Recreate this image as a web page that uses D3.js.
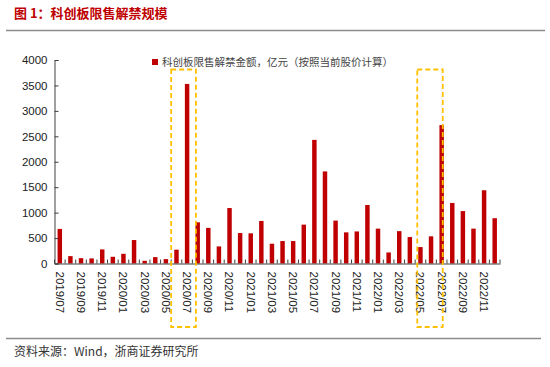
<!DOCTYPE html>
<html>
<head>
<meta charset="utf-8">
<script src="https://cdn.jsdelivr.net/npm/d3@7"></script>
<style>
body { margin: 0; background: #fff; }
text { font-family: "Liberation Sans", Arial, sans-serif; }
</style>
</head>
<body>
<div id="chart"></div>
<script>
var months = ["2019/07","2019/08","2019/09","2019/10","2019/11","2019/12",
  "2020/01","2020/02","2020/03","2020/04","2020/05","2020/06","2020/07","2020/08","2020/09","2020/10","2020/11","2020/12",
  "2021/01","2021/02","2021/03","2021/04","2021/05","2021/06","2021/07","2021/08","2021/09","2021/10","2021/11","2021/12",
  "2022/01","2022/02","2022/03","2022/04","2022/05","2022/06","2022/07","2022/08","2022/09","2022/10","2022/11","2022/12"]
var unlockValues = [680, 145, 105, 100, 277, 132,
  191, 461, 53, 125, 86, 272, 3530, 810, 700, 336, 1090, 599,
  593, 836, 389, 441, 441, 764, 2430, 1810, 843, 612, 630, 1150,
  685, 217, 636, 520, 323, 534, 2720, 1190, 1030, 685, 1440, 890]
var yTicks = [0, 500, 1000, 1500, 2000, 2500, 3000, 3500, 4000]
var xLabels = months.filter(function(d, i) { return i % 2 == 0 })
var seriesName = "科创板限售解禁金额，亿元（按照当前股价计算）"
var title = "图 1：科创板限售解禁规模"
var source = "资料来源：Wind，浙商证券研究所"

var width = 550
var height = 367
var svg = d3.select("#chart").append("svg").attr("width", width).attr("height", height)

var x = d3.scaleBand().domain(months).range([54.5, 500]).paddingInner(0.58).paddingOuter(0.29)
var y = d3.scaleLinear().domain([0, 4000]).range([263.5, 60])
var step = (500 - 54.5) / months.length

// title and rules
svg.append("text").attr("x", 14).attr("y", 18).text(title)
  .style("font-family", "'Noto Sans CJK SC'").style("font-weight", "bold")
  .style("font-size", "13px").attr("fill", "#c00000")
svg.append("line").attr("x1", 6).attr("x2", 545).attr("y1", 30.5).attr("y2", 30.5)
  .attr("stroke", "#8c8c8c").attr("stroke-width", 1.5)
svg.append("line").attr("x1", 6).attr("x2", 541).attr("y1", 338.5).attr("y2", 338.5)
  .attr("stroke", "#8c8c8c").attr("stroke-width", 1.5)
svg.append("text").attr("x", 14).attr("y", 356).text(source)
  .style("font-family", "'Noto Sans CJK SC'").style("font-size", "12px").attr("fill", "#333")

// bars
svg.selectAll(".bar").data(unlockValues).enter().append("rect").attr("class", "bar")
  .attr("x", function(d, i) { return x(months[i]) })
  .attr("y", function(d) { return y(d) })
  .attr("width", x.bandwidth())
  .attr("height", function(d) { return y(0) - y(d) })
  .attr("fill", "#c00000")

// y axis
var yAxis = svg.append("g").attr("transform", "translate(54.5,0)")
  .call(d3.axisLeft(y).tickValues(yTicks).tickFormat(d3.format("d")).tickSize(-4).tickPadding(7))
yAxis.select(".domain").attr("stroke", "#404040")
yAxis.selectAll(".tick line").attr("stroke", "#404040")
yAxis.selectAll("text").style("font-size", "11.5px").attr("fill", "#222")

// x axis
var xAxis = svg.append("g").attr("transform", "translate(0," + y(0) + ")")
  .call(d3.axisBottom(x).tickValues(xLabels).tickSize(0))
xAxis.select(".domain").attr("stroke", "#404040")
xAxis.selectAll("text").attr("transform", "rotate(90)")
  .attr("x", 8).attr("y", 0).attr("dy", "0.35em")
  .style("text-anchor", "start").style("font-size", "11.5px").attr("fill", "#222")

// boundary ticks between months
var bounds = d3.range(months.length + 1)
svg.selectAll(".btick").data(bounds).enter().append("line").attr("class", "btick")
  .attr("x1", function(d) { return 54.5 + d * step })
  .attr("x2", function(d) { return 54.5 + d * step })
  .attr("y1", y(0)).attr("y2", y(0) - 4)
  .attr("stroke", "#404040")

// legend
svg.append("rect").attr("x", 152).attr("y", 59).attr("width", 6).attr("height", 6).attr("fill", "#c00000")
svg.append("text").attr("x", 162).attr("y", 66).text(seriesName)
  .style("font-family", "'Noto Sans CJK SC'").style("font-size", "10.5px").attr("fill", "#444")

// highlight boxes
var boxes = [[11, 13.33], [34.2, 36.6]]
svg.selectAll(".hbox").data(boxes).enter().append("rect").attr("class", "hbox")
  .attr("x", function(d) { return 54.5 + d[0] * step })
  .attr("width", function(d) { return (d[1] - d[0]) * step })
  .attr("y", 69.5).attr("height", 257.5)
  .attr("fill", "none").attr("stroke", "#ffc000").attr("stroke-width", 1.8)
  .attr("stroke-dasharray", "5,3")
</script>
</body>
</html>
